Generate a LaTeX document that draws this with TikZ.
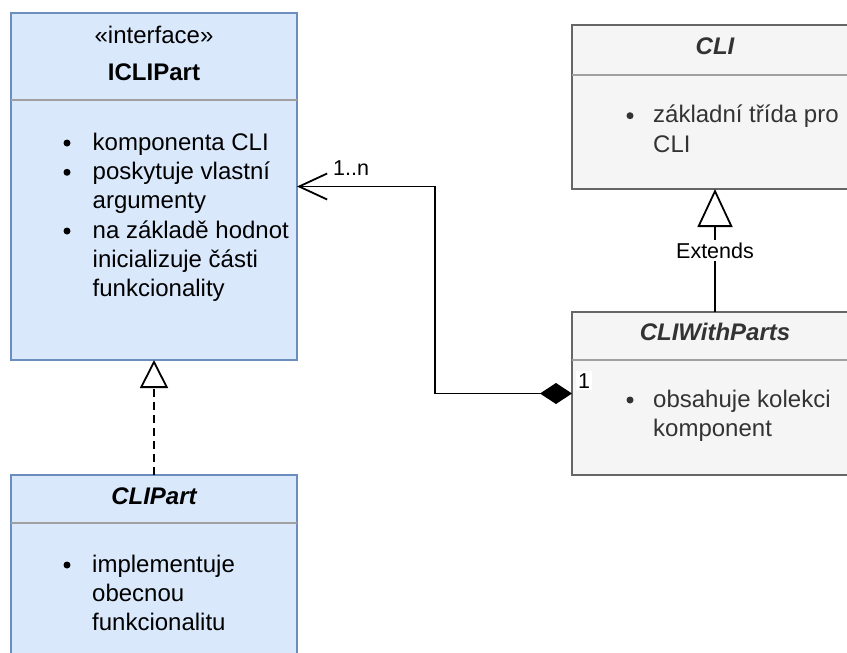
\documentclass[tikz,border=0pt]{standalone}
\usepackage{fontspec}
\setmainfont{Liberation Sans}
\usetikzlibrary{arrows.meta}
\definecolor{bluefill}{HTML}{DAE8FC}
\definecolor{bluedraw}{HTML}{6C8EBF}
\definecolor{grayfill}{HTML}{F5F5F5}
\definecolor{graydraw}{HTML}{666666}
\definecolor{sepgray}{HTML}{A0A0A0}
\definecolor{txtgray}{HTML}{333333}
\tikzset{
  classbox/.style={rectangle, line width=2pt, inner sep=0pt, outer sep=0pt},
  bluebox/.style={classbox, fill=bluefill, draw=bluedraw},
  graybox/.style={classbox, fill=grayfill, draw=graydraw},
  sepline/.style={draw=sepgray, line width=1.6pt},
  bodytxt/.style={anchor=base west, inner sep=0pt, font=\fontsize{24}{29.3}\selectfont},
  titletxt/.style={anchor=base, inner sep=0pt, font=\fontsize{24}{29.3}\selectfont},
  bulletdot/.style={circle, fill, minimum size=7pt, inner sep=0pt},
  conn/.style={line width=1.8pt, draw=black},
  lbltxt/.style={inner sep=0pt, font=\fontsize{21.5}{25}\selectfont},
}
\begin{document}
\begin{tikzpicture}[x=1pt,y=-1pt]
\useasboundingbox (0,0) rectangle (847,653);
\clip (0,0) rectangle (847,653);
\fill[white] (0,0) rectangle (847,653);

% ICLIPart
\node[bluebox, minimum width=286pt, minimum height=347pt] (icli) at (154,186.5) {};
\draw[sepline] (icli.west |- 0,100) -- (icli.east |- 0,100);
\node[titletxt] (icliSt) at (154,43) {«interface»};
\node[titletxt, font=\fontsize{24}{29.3}\selectfont\bfseries] (icliT) at (154,80) {ICLIPart};
\node[bulletdot] (ib1) at (67,143) {};
\node[bodytxt] (il1) at (92.5,150) {komponenta CLI};
\node[bulletdot] (ib2) at (67,172.3) {};
\node[bodytxt] (il2) at (92.5,179.3) {poskytuje vlastní};
\node[bodytxt] (il3) at (92.5,208.6) {argumenty};
\node[bulletdot] (ib3) at (67,231) {};
\node[bodytxt] (il4) at (92.5,238) {na základě hodnot};
\node[bodytxt] (il5) at (92.5,267.3) {inicializuje části};
\node[bodytxt] (il6) at (92.5,296.6) {funkcionality};

% CLIPart
\node[bluebox, minimum width=286pt, minimum height=200pt] (clipart) at (154,575) {};
\draw[sepline] (clipart.west |- 0,523) -- (clipart.east |- 0,523);
\node[titletxt, font=\fontsize{24}{29.3}\selectfont\bfseries\itshape] (clipartT) at (154,504) {CLIPart};
\node[bulletdot] (pb1) at (67,565) {};
\node[bodytxt] (pl1) at (92,572) {implementuje};
\node[bodytxt] (pl2) at (92,601.3) {obecnou};
\node[bodytxt] (pl3) at (92,630.6) {funkcionalitu};

% CLI
\node[graybox, minimum width=286pt, minimum height=164pt] (cli) at (715,107) {};
\draw[sepline] (cli.west |- 0,75) -- (cli.east |- 0,75);
\node[titletxt, text=txtgray, font=\fontsize{24}{29.3}\selectfont\bfseries\itshape] (cliT) at (715,54) {CLI};
\node[bulletdot, fill=txtgray] (cb1) at (630,115.7) {};
\node[bodytxt, text=txtgray] (cl1) at (653,122.7) {základní třída pro};
\node[bodytxt, text=txtgray] (cl2) at (653,152) {CLI};

% CLIWithParts
\node[graybox, minimum width=286pt, minimum height=163pt] (cwp) at (715,393.5) {};
\draw[sepline] (cwp.west |- 0,360) -- (cwp.east |- 0,360);
\node[titletxt, text=txtgray, font=\fontsize{24}{29.3}\selectfont\bfseries\itshape] (cwpT) at (715,340) {CLIWithParts};
\node[bulletdot, fill=txtgray] (wb1) at (630,400) {};
\node[bodytxt, text=txtgray] (wl1) at (653,407) {obsahuje kolekci};
\node[bodytxt, text=txtgray] (wl2) at (653,436.3) {komponent};

% Extends
\draw[conn, -{Triangle[open, length=38pt, width=35pt, fill=white]}] (cwp.north) -- node[lbltxt, fill=white, inner ysep=3pt, pos=0.5] (ext) {Extends} (cli.south);

% Realization
\draw[conn, dash pattern=on 8pt off 5pt, -{Triangle[open, length=28pt, width=28pt, fill=white]}] (clipart.north) -- (icli.south);

% Composition
\draw[conn, {Diamond[length=32pt, width=21pt]}-{Straight Barb[length=28pt, width=26pt]}] (cwp.west) -- ++(-137,0) |- (icli.east);
\node[lbltxt, anchor=base west] (mult1) at (333,175) {1..n};
\node[lbltxt, anchor=base west, fill=white, inner sep=2pt] (mult2) at (576,388) {1};
\end{tikzpicture}
\end{document}
